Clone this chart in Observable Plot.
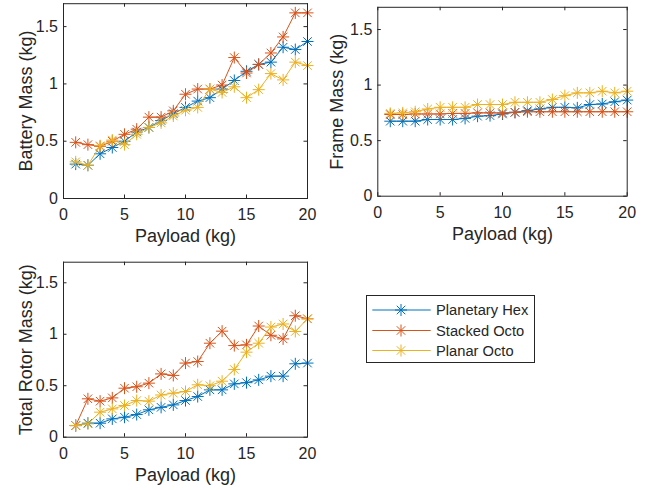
<!DOCTYPE html>
<html><head><meta charset="utf-8">
<script src="https://cdn.jsdelivr.net/npm/d3@7"></script>
<script src="https://cdn.jsdelivr.net/npm/@observablehq/plot@0.6"></script>
<style>
body{margin:0;background:#fff;}
#chart{position:relative;width:649px;height:490px;font-family:"Liberation Sans",Arial,sans-serif;}
#chart > svg{position:absolute;}
</style></head><body><div id="chart"></div>
<script>
const payload = [1,2,3,4,5,6,7,8,9,10,11,12,13,14,15,16,17,18,19,20];
const seriesNames = ["Planetary Hex","Stacked Octo","Planar Octo"];
const seriesColors = ["#0072BD","#D95319","#EDB120"];

const batteryHex     = [0.30,0.29,0.39,0.445,0.50,0.58,0.62,0.68,0.74,0.795,0.85,0.88,0.955,1.03,1.11,1.17,1.19,1.32,1.30,1.37];
const batteryStacked = [0.49,0.47,0.455,0.50,0.56,0.605,0.71,0.71,0.765,0.91,0.955,0.955,0.99,1.23,1.095,1.17,1.27,1.41,1.62,1.62];
const batteryPlanar  = [0.32,0.29,0.46,0.51,0.47,0.56,0.62,0.66,0.72,0.77,0.795,0.955,0.925,0.975,0.88,0.95,1.09,1.035,1.19,1.16];

const frameHex     = [0.675,0.675,0.675,0.69,0.69,0.69,0.70,0.72,0.725,0.74,0.755,0.77,0.785,0.80,0.80,0.795,0.825,0.83,0.85,0.865];
const frameStacked = [0.735,0.735,0.74,0.74,0.74,0.745,0.745,0.75,0.75,0.75,0.755,0.76,0.76,0.76,0.76,0.76,0.76,0.76,0.76,0.76];
const framePlanar  = [0.745,0.75,0.76,0.785,0.80,0.80,0.80,0.825,0.825,0.825,0.845,0.845,0.845,0.87,0.905,0.93,0.93,0.945,0.93,0.945];

const rotorHex     = [0.113,0.136,0.136,0.178,0.194,0.22,0.266,0.29,0.314,0.356,0.395,0.46,0.46,0.518,0.53,0.557,0.593,0.593,0.713,0.72];
const rotorStacked = [0.113,0.373,0.35,0.382,0.476,0.49,0.525,0.615,0.60,0.72,0.735,0.913,1.03,0.89,0.897,1.08,0.99,0.955,1.18,1.15];
const rotorPlanar  = [0.113,0.13,0.243,0.275,0.308,0.356,0.35,0.41,0.428,0.444,0.509,0.50,0.544,0.658,0.826,0.913,1.07,1.10,1.027,1.15];

const xTicks = [0,5,10,15,20];
const xTickLabels = ["0","5","10","15","20"];
const yTicks = [0,0.5,1,1.5];
const yTickLabels = ["0","0.5","1","1.5"];
const xLabel = "Payload (kg)";
const yLabels = ["Battery Mass (kg)","Frame Mass (kg)","Total Rotor Mass (kg)"];

const ink = "#262626";
const font = '"Liberation Sans", Arial, sans-serif';
const TL = 3.5;

const asterisk = {draw(ctx, size){
  const r = Math.sqrt(size/Math.PI), q = r*Math.SQRT1_2;
  ctx.moveTo(-r,0); ctx.lineTo(r,0);
  ctx.moveTo(0,-r); ctx.lineTo(0,r);
  ctx.moveTo(-q,-q); ctx.lineTo(q,q);
  ctx.moveTo(-q,q); ctx.lineTo(q,-q);
}};

const chart = document.getElementById("chart");

function panel(values, yLabel, o){
  const innerW = o.width-o.ml-o.mr, innerH = o.height-o.mt-o.mb;
  const marks = [
    Plot.ruleX(xTicks, {x: d=>d, insetTop: innerH-TL, stroke: ink}),
    Plot.ruleX(xTicks, {x: d=>d, insetBottom: innerH-TL, stroke: ink}),
    Plot.ruleY(yTicks, {y: d=>d, insetRight: innerW-TL, stroke: ink}),
    Plot.ruleY(yTicks, {y: d=>d, insetLeft: innerW-TL, stroke: ink})
  ];
  values.forEach((arr, s) => {
    const d = arr.map((v,i)=>({x: payload[i], y: v}));
    marks.push(Plot.line(d, {x:"x", y:"y", stroke: seriesColors[s], strokeWidth: 1}));
    marks.push(Plot.dot(d, {x:"x", y:"y", stroke: seriesColors[s], fill: "none", symbol: asterisk, r: 6, strokeWidth: 1}));
  });
  marks.push(Plot.frame({stroke: ink}));
  marks.push(Plot.axisX(xTicks, {tickSize: 0, tickPadding: 10, label: null, fill: ink,
    tickFormat: d => xTickLabels[xTicks.indexOf(d)]}));
  marks.push(Plot.axisY(yTicks, {tickSize: 0, tickPadding: 5.5, label: null, fill: ink,
    tickFormat: d => yTickLabels[yTicks.indexOf(d)]}));
  marks.push(Plot.text([xLabel], {text: d=>d, frameAnchor: "bottom", dy: 43.5, lineAnchor: "bottom", textAnchor: "middle", fontSize: 18, fill: ink}));
  marks.push(Plot.text([yLabel], {text: d=>d, frameAnchor: "left", dx: o.ylx, rotate: -90, lineAnchor: "bottom", textAnchor: "middle", fontSize: 18, fill: ink}));
  const svg = Plot.plot({
    width: o.width, height: o.height,
    marginLeft: o.ml, marginRight: o.mr, marginTop: o.mt, marginBottom: o.mb,
    x: {domain: [0,20]}, y: {domain: [0,1.7]},
    style: {fontSize: "16px", fontFamily: font, color: ink, background: "transparent", overflow: "visible"},
    marks
  });
  svg.style.left = o.left + "px";
  svg.style.top = o.top + "px";
  chart.appendChild(svg);
}

panel([batteryHex, batteryStacked, batteryPlanar], yLabels[0],
  {left: 0, top: 0, width: 320, height: 250, ml: 63, mr: 13, mt: 3.2, mb: 52, ylx: -31.5});
panel([frameHex, frameStacked, framePlanar], yLabels[1],
  {left: 320, top: 0, width: 329, height: 250, ml: 57.3, mr: 22.3, mt: 6.8, mb: 54.3, ylx: -35});
panel([rotorHex, rotorStacked, rotorPlanar], yLabels[2],
  {left: 0, top: 250, width: 320, height: 240, ml: 63, mr: 13, mt: 11.7, mb: 53.3, ylx: -31.5});

// legend
const lg = d3.create("svg").attr("width", 649).attr("height", 490)
  .style("left","0px").style("top","0px").style("font-family", font);
lg.append("rect").attr("x", 366.5).attr("y", 295.5).attr("width", 168).attr("height", 67)
  .attr("fill", "#fff").attr("stroke", ink).attr("stroke-width", 1);
const rowY = [310, 330.5, 350.5];
seriesNames.forEach((name, i) => {
  const g = lg.append("g").attr("transform", `translate(0,${rowY[i]})`);
  g.append("line").attr("x1", 372.3).attr("x2", 430.7).attr("y1", 0).attr("y2", 0)
    .attr("stroke", seriesColors[i]).attr("stroke-width", 1);
  g.append("path").attr("transform", "translate(401,0)")
    .attr("d", d3.symbol(asterisk, 36*Math.PI)())
    .attr("stroke", seriesColors[i]).attr("fill", "none").attr("stroke-width", 1);
  g.append("text").attr("x", 436).attr("y", 0).attr("dy", "0.35em")
    .attr("font-size", 14.7).attr("fill", ink).text(name);
});
chart.appendChild(lg.node());
</script>
</body></html>
